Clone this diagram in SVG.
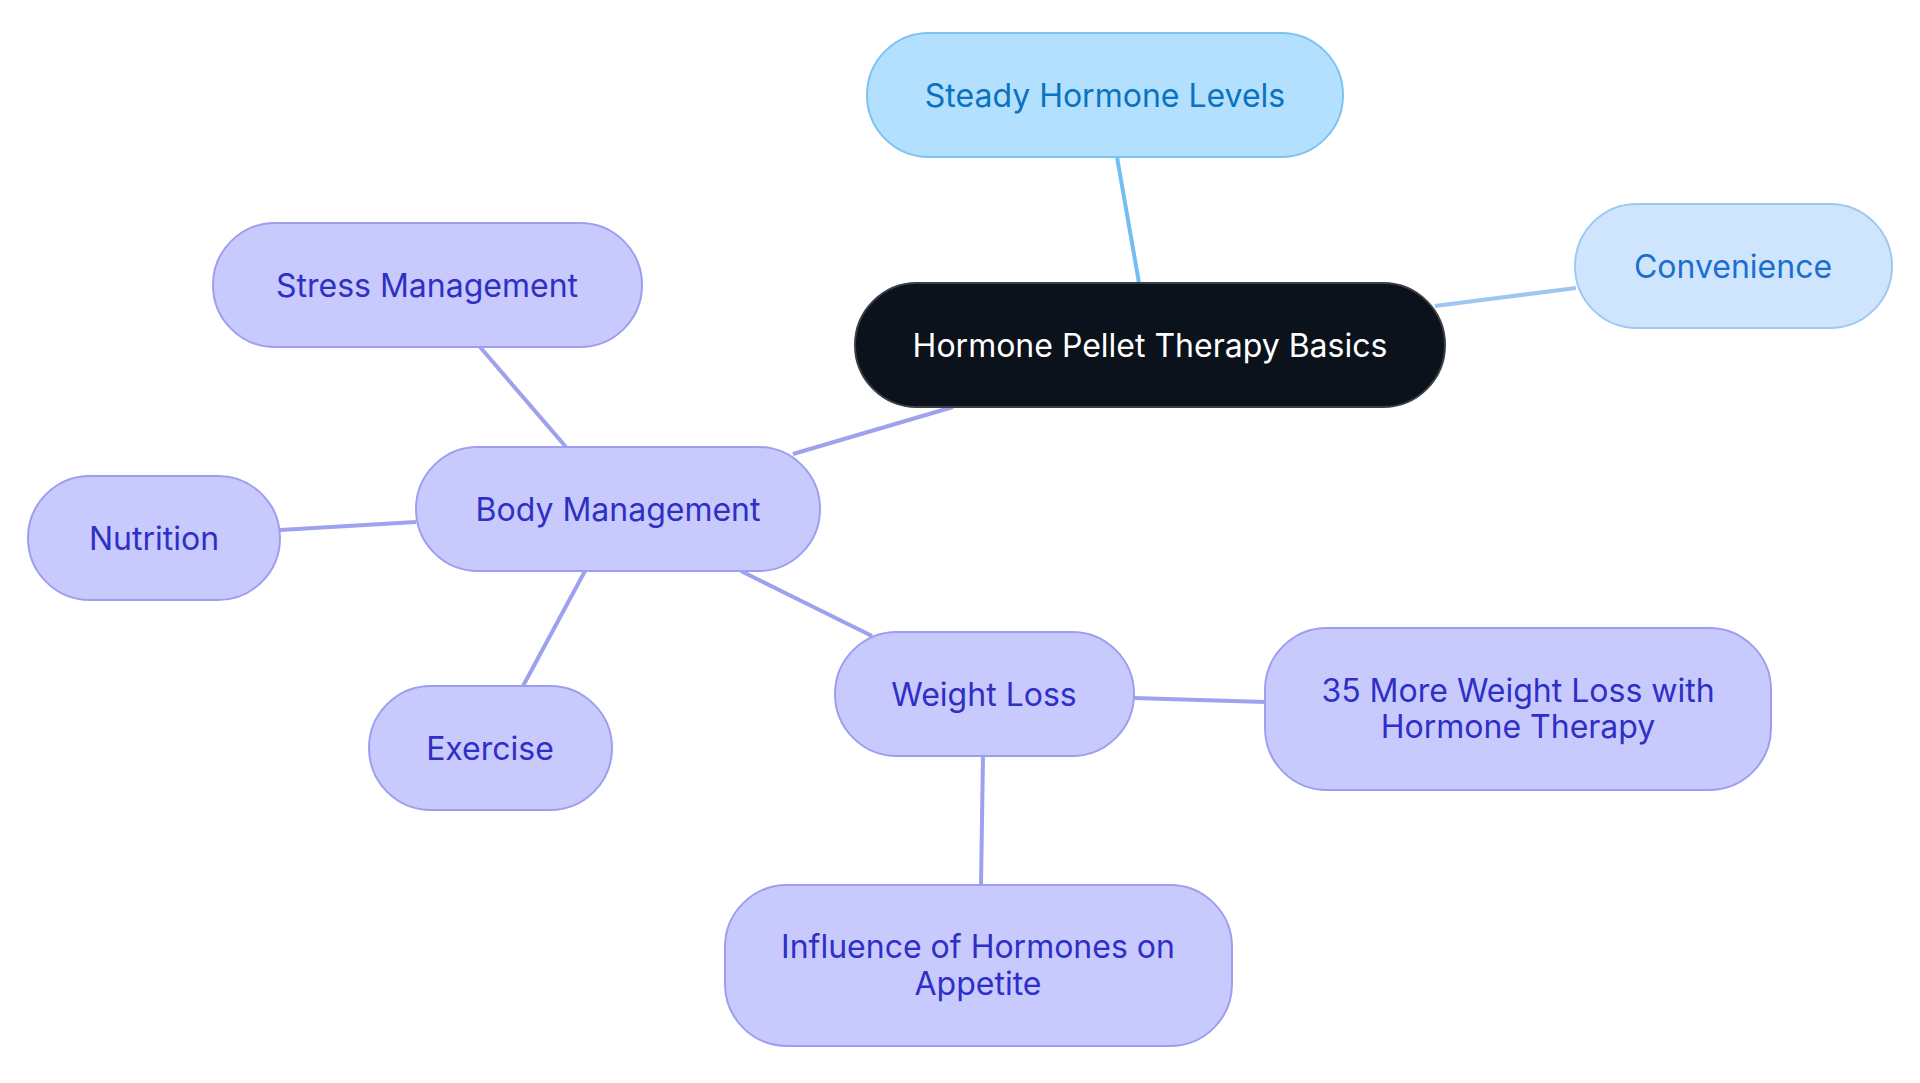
<svg xmlns="http://www.w3.org/2000/svg" width="1920" height="1083" viewBox="0 0 1920 1083">
<style>
text{font-family:Inter,"Noto Sans",sans-serif;font-size:32px;text-anchor:middle;dominant-baseline:central}
.p rect{fill:#c8cafd;stroke:#9d9fee;stroke-width:2}
.p text{fill:#2f2fc6}
.e line{stroke-width:4;fill:none}
</style>
<rect width="1920" height="1083" fill="#fff"/>
<g id="connectors" class="e">
<line x1="1117" y1="157" x2="1139" y2="283" stroke="#74bdf0"/>
<line x1="1435" y1="306" x2="1576" y2="288" stroke="#9ec6f0"/>
<line x1="953" y1="407" x2="793" y2="454" stroke="#9ea1ee"/>
<line x1="566" y1="447" x2="480" y2="347" stroke="#9ea1ee"/>
<line x1="416" y1="522" x2="280" y2="530" stroke="#9ea1ee"/>
<line x1="585" y1="571" x2="523" y2="686" stroke="#9ea1ee"/>
<line x1="741" y1="571" x2="872" y2="636" stroke="#9ea1ee"/>
<line x1="1134" y1="698" x2="1265" y2="702" stroke="#9ea1ee"/>
<line x1="983" y1="756" x2="981" y2="885" stroke="#9ea1ee"/>
</g>
<g id="root"><rect x="855" y="283" width="590" height="124" rx="62" fill="#0c121c" stroke="#3a3f47" stroke-width="2"/><text x="1150" y="345" fill="#fff">Hormone Pellet Therapy Basics</text></g>
<g id="steady"><rect x="867" y="33" width="476" height="124" rx="62" fill="#b3e0ff" stroke="#7cc4f0" stroke-width="2"/><text x="1105" y="95" fill="#0a72c0">Steady Hormone Levels</text></g>
<g id="convenience"><rect x="1575" y="204" width="317" height="124" rx="62" fill="#cfe5fd" stroke="#9ec8f0" stroke-width="2"/><text x="1733" y="266" fill="#1a6fd0">Convenience</text></g>
<g id="stress" class="p"><rect x="213" y="223" width="429" height="124" rx="62"/><text x="427" y="285">Stress Management</text></g>
<g id="body" class="p"><rect x="416" y="447" width="404" height="124" rx="62"/><text x="618" y="509">Body Management</text></g>
<g id="nutrition" class="p"><rect x="28" y="476" width="252" height="124" rx="62"/><text x="154" y="538">Nutrition</text></g>
<g id="exercise" class="p"><rect x="369" y="686" width="243" height="124" rx="62"/><text x="490" y="748">Exercise</text></g>
<g id="weightloss" class="p"><rect x="835" y="632" width="299" height="124" rx="62"/><text x="984" y="694">Weight Loss</text></g>
<g id="more35" class="p"><rect x="1265" y="628" width="506" height="162" rx="62"/><text x="1518" y="690">35 More Weight Loss with</text><text x="1518" y="726">Hormone Therapy</text></g>
<g id="influence" class="p"><rect x="725" y="885" width="507" height="161" rx="62"/><text x="978" y="946">Influence of Hormones on</text><text x="978" y="983">Appetite</text></g>
</svg>
